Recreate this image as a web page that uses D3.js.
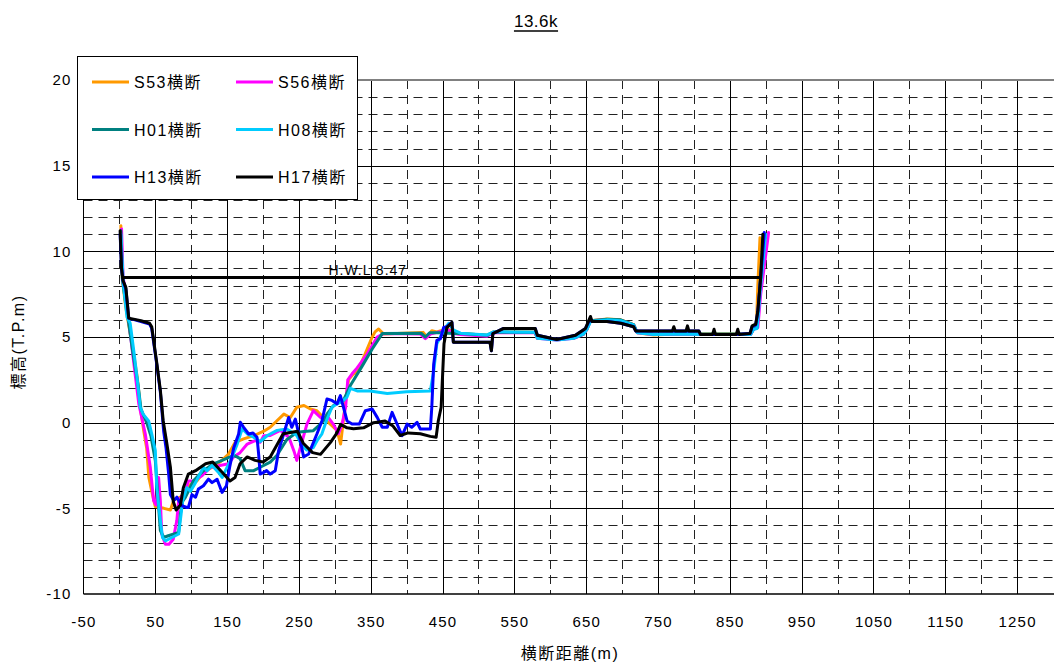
<!DOCTYPE html>
<html>
<head>
<meta charset="utf-8">
<script src="https://cdn.jsdelivr.net/npm/d3@7"></script>
<style>
  html, body { margin: 0; padding: 0; background: #fff; }
  svg { display: block; }
  text { font-family: "Liberation Sans", Arial, "Noto Sans CJK JP", sans-serif; fill: #000; }
</style>
</head>
<body>
<svg id="chart" width="1054" height="666"></svg>
<script>
// Cross-section survey profiles at 13.6k: [distance (m), elevation (T.P.m)]
const titleText = "13.6k";
const xTitle = "横断距離(m)";
const yTitle = "標高(T.P.m)";

const seriesNames = ["S53横断", "S56横断", "H01横断", "H08横断", "H13横断", "H17横断"];
const seriesColors = ["#FF9900", "#FF00FF", "#008080", "#00CCFF", "#0000FF", "#000000"];

const xTicks = [-50, 50, 150, 250, 350, 450, 550, 650, 750, 850, 950, 1050, 1150, 1250];
const yTicks = [-10, -5, 0, 5, 10, 15, 20];

const hwlLevel = 8.47;
const hwlRange = [3, 892];
const hwlLabel = "H.W.L 8.47";

const s53 = [[2,11.5],[4,8.5],[8,7.0],[11,6.2],[18,4.5],[25,2.6],[29,0.9],[34,-0.5],[38,-1.5],[41,-3.2],[45,-4.0],[50,-4.9],[62,-5.0],[71,-5.1],[76,-4.5],[85,-4.35],[99,-3.6],[108,-3.4],[117,-2.9],[129,-2.6],[140,-2.3],[152,-1.83],[161,-1.15],[173,-0.95],[187,-0.76],[201,-0.5],[210,-0.27],[219,0.1],[229,0.5],[238,0.3],[247,0.9],[257,1.0],[266,0.8],[275,0.7],[284,0.3],[294,-0.1],[303,-0.45],[308,-1.25],[312,0.2],[315,1.3],[319,2.5],[326,2.85],[331,2.95],[340,3.8],[352,5.0],[356,5.3],[361,5.47],[368,5.17],[423,5.27],[428,5.0],[435,5.37],[442,5.3],[450,5.4],[458,5.45],[466,5.25],[475,5.2],[512,5.1],[521,5.3],[535,5.3],[579,5.28],[582,4.95],[609,4.85],[633,4.95],[646,5.15],[651,5.45],[656,5.95],[679,6.05],[698,6.0],[716,5.72],[721,5.25],[744,5.12],[790,5.2],[809,5.17],[879,5.17],[883,5.45],[887,5.6],[889,8.0],[892,10.8]];

const s56 = [[3,11.3],[5,8.6],[9,7.3],[13,5.95],[20,3.5],[27,1.1],[36,-0.65],[43,-2.6],[47.6,-4.55],[51,-4.8],[54.6,-3.2],[57,-4.55],[59,-6.5],[64,-7.1],[69,-7.1],[75,-6.8],[80,-5.7],[82.5,-4.55],[92,-4.0],[96,-3.4],[103,-3.4],[115,-3.1],[127,-2.6],[140,-2.5],[152,-2.4],[159,-2.0],[168,-1.75],[178,-1.25],[189,-1.05],[196,-1.15],[201,-0.76],[210,-0.75],[224,-0.45],[236,-0.85],[243,-1.65],[247,-2.2],[252,-1.45],[261,-0.1],[270,0.7],[280,0.3],[291,0.3],[298,-0.1],[305,-0.65],[310,-0.1],[315,0.9],[318,2.5],[324,2.85],[331,3.2],[345,4.0],[359,5.0],[368,5.2],[419,5.17],[426,4.9],[433,5.17],[445,5.3],[458,5.4],[466,5.2],[475,5.15],[512,5.05],[521,5.25],[535,5.25],[579,5.25],[582,4.92],[609,4.82],[633,4.92],[646,5.15],[651,5.45],[656,5.95],[679,6.0],[698,5.97],[716,5.7],[721,5.25],[744,5.15],[790,5.18],[809,5.15],[879,5.15],[883,5.45],[889,5.55],[893,7.5],[904,11.1]];

const h01 = [[2,11.2],[4,8.4],[8,7.2],[12,6.1],[19,4.0],[26,2.2],[30,0.8],[38,0.0],[44,-0.8],[50,-2.2],[53,-4.0],[57,-6.3],[62,-6.7],[68,-6.6],[76,-6.5],[82.5,-6.4],[85,-5.3],[88,-4.6],[92,-4.35],[103,-3.4],[117,-2.8],[131,-2.4],[143,-2.2],[154,-2.0],[161,-1.93],[168,-2.1],[175,-2.8],[187,-2.8],[196,-2.6],[210,-2.3],[219.5,-1.9],[233,-1.0],[247,-0.56],[261,-0.5],[270,-0.47],[280,-0.08],[284,0.1],[289,0.5],[298,1.0],[312,1.3],[322,2.2],[338,3.3],[352,4.3],[366,5.2],[420,5.22],[426,5.0],[432,5.25],[445,5.25],[466,5.2],[475,5.2],[512,5.1],[521,5.28],[535,5.28],[579,5.27],[582,4.95],[609,4.85],[633,4.95],[646,5.17],[651,5.47],[656,5.95],[679,6.03],[698,6.0],[716,5.72],[721,5.27],[744,5.17],[790,5.2],[809,5.17],[879,5.17],[883,5.47],[888,5.56],[892,8.0],[897,11.0]];

const h08 = [[2,11.0],[5.5,8.1],[10.6,6.15],[15,5.8],[20,4.2],[24.5,2.65],[29,0.9],[33,0.5],[40.7,0.1],[45,-0.65],[50,-1.63],[52,-3.8],[57,-5.7],[60,-6.7],[64,-6.9],[73,-6.7],[82.5,-6.5],[86,-5.3],[88,-4.55],[94,-3.8],[99,-4.0],[106,-3.5],[117,-2.6],[122,-2.8],[129,-2.5],[138,-2.9],[143,-3.2],[150,-2.6],[157,-2.0],[164,-1.25],[171,-0.35],[178,-0.65],[187,-0.85],[196,-1.1],[206,-0.75],[219.5,-0.45],[233,-0.37],[247,-0.75],[254,-1.3],[261,-1.6],[270,-1.45],[276,-1.0],[282,-0.65],[289,0.2],[296,0.9],[303,1.1],[312,1.3],[317,1.5],[321.6,2.0],[331,1.85],[349,1.85],[373,1.7],[400,1.8],[433,1.85],[437.6,3.0],[442,4.6],[447,5.0],[451.5,5.4],[458.5,5.8],[465.5,5.4],[475,5.22],[512,5.12],[521,5.3],[535,5.3],[579,5.27],[582,4.93],[609,4.82],[633,4.93],[646,5.17],[651,5.45],[656,5.9],[679,6.0],[698,5.95],[716,5.7],[721,5.25],[744,5.15],[790,5.18],[809,5.15],[879,5.15],[883,5.45],[888,5.5],[893,8.0],[900,11.0]];

const h13 = [[1,11.0],[3,9.0],[5,8.3],[9,7.8],[13,6.1],[30,5.9],[42,5.75],[45,5.5],[52,3.4],[57,1.8],[61.6,-0.5],[65,-1.5],[68.6,-3.0],[71,-4.2],[75.5,-4.55],[80,-4.35],[87,-4.85],[94,-4.95],[96,-4.95],[101,-4.2],[106,-4.35],[110,-3.87],[117,-3.68],[124,-3.3],[129,-3.5],[136,-3.3],[143,-4.07],[149,-3.68],[153.5,-2.6],[159,-1.5],[166,-0.66],[168.4,0.02],[173,-0.27],[180,-0.66],[186,-0.6],[191.6,-0.85],[194,-1.9],[196,-3.0],[201,-2.9],[205,-2.8],[210,-3.0],[217,-2.8],[221.7,-1.63],[228.7,-0.66],[235.7,0.3],[240,-0.27],[245,0.21],[252,-1.05],[256.5,-2.0],[263.5,-1.83],[275,-0.66],[282,0.1],[289,1.38],[296,1.3],[303,1.1],[307.7,1.58],[312,0.9],[317,0.1],[324,-0.08],[334,-0.08],[342.5,0.7],[352,0.8],[359,0.31],[366,-0.27],[373,-0.27],[379.7,0.6],[386.6,-0.08],[393.6,-0.76],[400.6,-0.08],[407,-0.27],[414.5,0.02],[419,-0.37],[433,-0.37],[435,0.9],[437.6,3.4],[442,4.8],[447,4.9],[451.5,5.56],[456,5.6],[463,5.85],[465,4.7],[516,4.7],[518,4.2],[520,5.2],[535,5.5],[579,5.5],[582,5.1],[609,4.85],[635,5.1],[649,5.5],[656,6.1],[658,5.9],[679,5.9],[698,5.8],[716,5.6],[719,5.35],[770,5.35],[789,5.35],[807,5.35],[809,5.15],[859,5.15],[878,5.2],[881,5.6],[886,5.7],[889,6.5],[893,8.5],[898,11.1]];

const h17 = [[1,11.2],[3,9.0],[5,8.3],[9,7.9],[13,6.1],[30,5.95],[42,5.8],[45,5.6],[52,3.5],[57,1.9],[61,0.1],[66,-1.2],[71,-2.6],[75,-4.6],[79,-5.1],[85,-4.8],[89,-3.8],[96,-3.0],[106,-2.8],[120,-2.4],[130,-2.3],[143,-2.9],[154,-3.4],[161,-3.2],[168,-2.4],[178,-2.0],[189,-2.2],[200,-2.3],[210,-2.0],[228,-0.65],[248,-0.5],[256,-1.2],[269,-1.75],[280,-1.85],[294,-1.15],[303,-0.6],[308,-0.1],[317,-0.3],[326,-0.35],[340,-0.3],[354,0.0],[370,0.1],[381,-0.2],[391,-0.75],[402,-0.6],[419,-0.65],[433,-0.8],[441,-0.85],[444,0.1],[448,0.9],[452,4.6],[456,5.55],[463,5.85],[465,4.7],[516,4.7],[518,4.2],[520,5.2],[535,5.5],[579,5.5],[582,5.1],[609,4.85],[635,5.1],[649,5.5],[656,6.2],[658,5.9],[679,5.9],[698,5.8],[716,5.6],[719,5.35],[770,5.35],[772,5.6],[774,5.35],[789,5.35],[791,5.65],[793,5.35],[807,5.35],[809,5.15],[826,5.15],[828,5.45],[830,5.15],[859,5.15],[861,5.45],[863,5.15],[878,5.2],[881,5.65],[886,5.75],[889,6.5],[893,8.5],[896,11.0]];

const seriesData = [s53, s56, h01, h08, h13, h17];

const svg = d3.select("#chart");
const W = 1054, H = 666;
const plot = { left: 83.5, right: 1053, top: 80, bottom: 594 };

const x = d3.scaleLinear().domain([-50, 1300]).range([plot.left, plot.right]);
const y = d3.scaleLinear().domain([-10, 20]).range([plot.bottom, plot.top]);

// grid: dashed minor lines, solid lines at the labelled ticks
const grid = svg.append("g");
d3.range(-9, 20).filter(v => v % 5 !== 0).forEach(v => {
  grid.append("line")
    .attr("x1", plot.left).attr("x2", W)
    .attr("y1", Math.round(y(v)) + 0.5).attr("y2", Math.round(y(v)) + 0.5)
    .attr("stroke", "#222").attr("stroke-width", 1).attr("stroke-dasharray", "9,6");
});
d3.range(0, 1300, 100).forEach(v => {
  grid.append("line")
    .attr("x1", Math.round(x(v)) + 0.5).attr("x2", Math.round(x(v)) + 0.5)
    .attr("y1", plot.top).attr("y2", plot.bottom)
    .attr("stroke", "#222").attr("stroke-width", 1).attr("stroke-dasharray", "9,6");
});
yTicks.filter(v => v > -10 && v < 20).forEach(v => {
  grid.append("line")
    .attr("x1", plot.left).attr("x2", W)
    .attr("y1", Math.round(y(v)) + 0.5).attr("y2", Math.round(y(v)) + 0.5)
    .attr("stroke", "#000").attr("stroke-width", 1);
});
xTicks.filter(v => v > -50).forEach(v => {
  grid.append("line")
    .attr("x1", Math.round(x(v)) + 0.5).attr("x2", Math.round(x(v)) + 0.5)
    .attr("y1", plot.top).attr("y2", plot.bottom)
    .attr("stroke", "#000").attr("stroke-width", 1);
});

// frame
svg.append("line").attr("x1", plot.left).attr("x2", W).attr("y1", plot.top).attr("y2", plot.top)
  .attr("stroke", "#808080").attr("stroke-width", 2);
svg.append("line").attr("x1", plot.left).attr("x2", plot.left).attr("y1", plot.top).attr("y2", plot.bottom)
  .attr("stroke", "#000").attr("stroke-width", 1);
svg.append("line").attr("x1", plot.left).attr("x2", W).attr("y1", plot.bottom).attr("y2", plot.bottom)
  .attr("stroke", "#000").attr("stroke-width", 1.5);

// axes (labels only, the frame draws the lines)
const fmt = d => String(d);
const xAxis = svg.append("g").attr("transform", `translate(0,${plot.bottom})`)
  .call(d3.axisBottom(x).tickValues(xTicks).tickFormat(fmt).tickSize(0).tickPadding(22));
const yAxis = svg.append("g").attr("transform", `translate(${plot.left},0)`)
  .call(d3.axisLeft(y).tickValues(yTicks).tickFormat(fmt).tickSize(0).tickPadding(12));
[xAxis, yAxis].forEach(a => {
  a.select(".domain").remove();
  a.selectAll("text").attr("font-size", 15).attr("fill", "#000")
    .style("letter-spacing", "1.2px")
    .attr("font-family", "'Liberation Sans', Arial, sans-serif");
});

// profiles
const line = d3.line().x(d => x(d[0])).y(d => y(d[1]));
seriesData.forEach((data, i) => {
  svg.append("path").datum(data)
    .attr("d", line)
    .attr("fill", "none")
    .attr("stroke", seriesColors[i])
    .attr("stroke-width", 3)
    .attr("stroke-linejoin", "round")
    .attr("stroke-linecap", "round");
});

// H.W.L
svg.append("line")
  .attr("x1", x(hwlRange[0])).attr("x2", x(hwlRange[1]))
  .attr("y1", y(hwlLevel)).attr("y2", y(hwlLevel))
  .attr("stroke", "#000").attr("stroke-width", 3);
svg.append("text")
  .attr("x", x(291)).attr("y", y(hwlLevel) - 3)
  .attr("font-size", 14).style("letter-spacing", "1px")
  .text(hwlLabel);

// title
const t = svg.append("text")
  .attr("x", 536).attr("y", 27).attr("text-anchor", "middle")
  .attr("font-size", 17).style("letter-spacing", "0.5px")
  .text(titleText);
const tb = t.node().getBBox();
svg.append("line").attr("x1", tb.x).attr("x2", tb.x + tb.width)
  .attr("y1", 31).attr("y2", 31).attr("stroke", "#000").attr("stroke-width", 1.5);

// axis titles
svg.append("text")
  .attr("x", 570).attr("y", 659).attr("text-anchor", "middle")
  .attr("font-size", 16).style("letter-spacing", "1.5px")
  .text(xTitle);
svg.append("text")
  .attr("transform", "translate(24,342) rotate(-90)")
  .attr("text-anchor", "middle")
  .attr("font-size", 16).style("letter-spacing", "1.5px")
  .text(yTitle);

// legend
const legend = svg.append("g");
legend.append("rect")
  .attr("x", 77.5).attr("y", 56.5).attr("width", 280).attr("height", 143)
  .attr("fill", "#fff").attr("stroke", "#000").attr("stroke-width", 1);
seriesNames.forEach((name, i) => {
  const col = i % 2, row = Math.floor(i / 2);
  const lx = col === 0 ? 92 : 236;
  const ly = 82 + row * 47.5;
  legend.append("line")
    .attr("x1", lx).attr("x2", lx + 37).attr("y1", ly).attr("y2", ly)
    .attr("stroke", seriesColors[i]).attr("stroke-width", 3);
  legend.append("text")
    .attr("x", lx + 42).attr("y", ly + 6)
    .attr("font-size", 16).style("letter-spacing", "1.5px")
    .text(name);
});
</script>
</body>
</html>
